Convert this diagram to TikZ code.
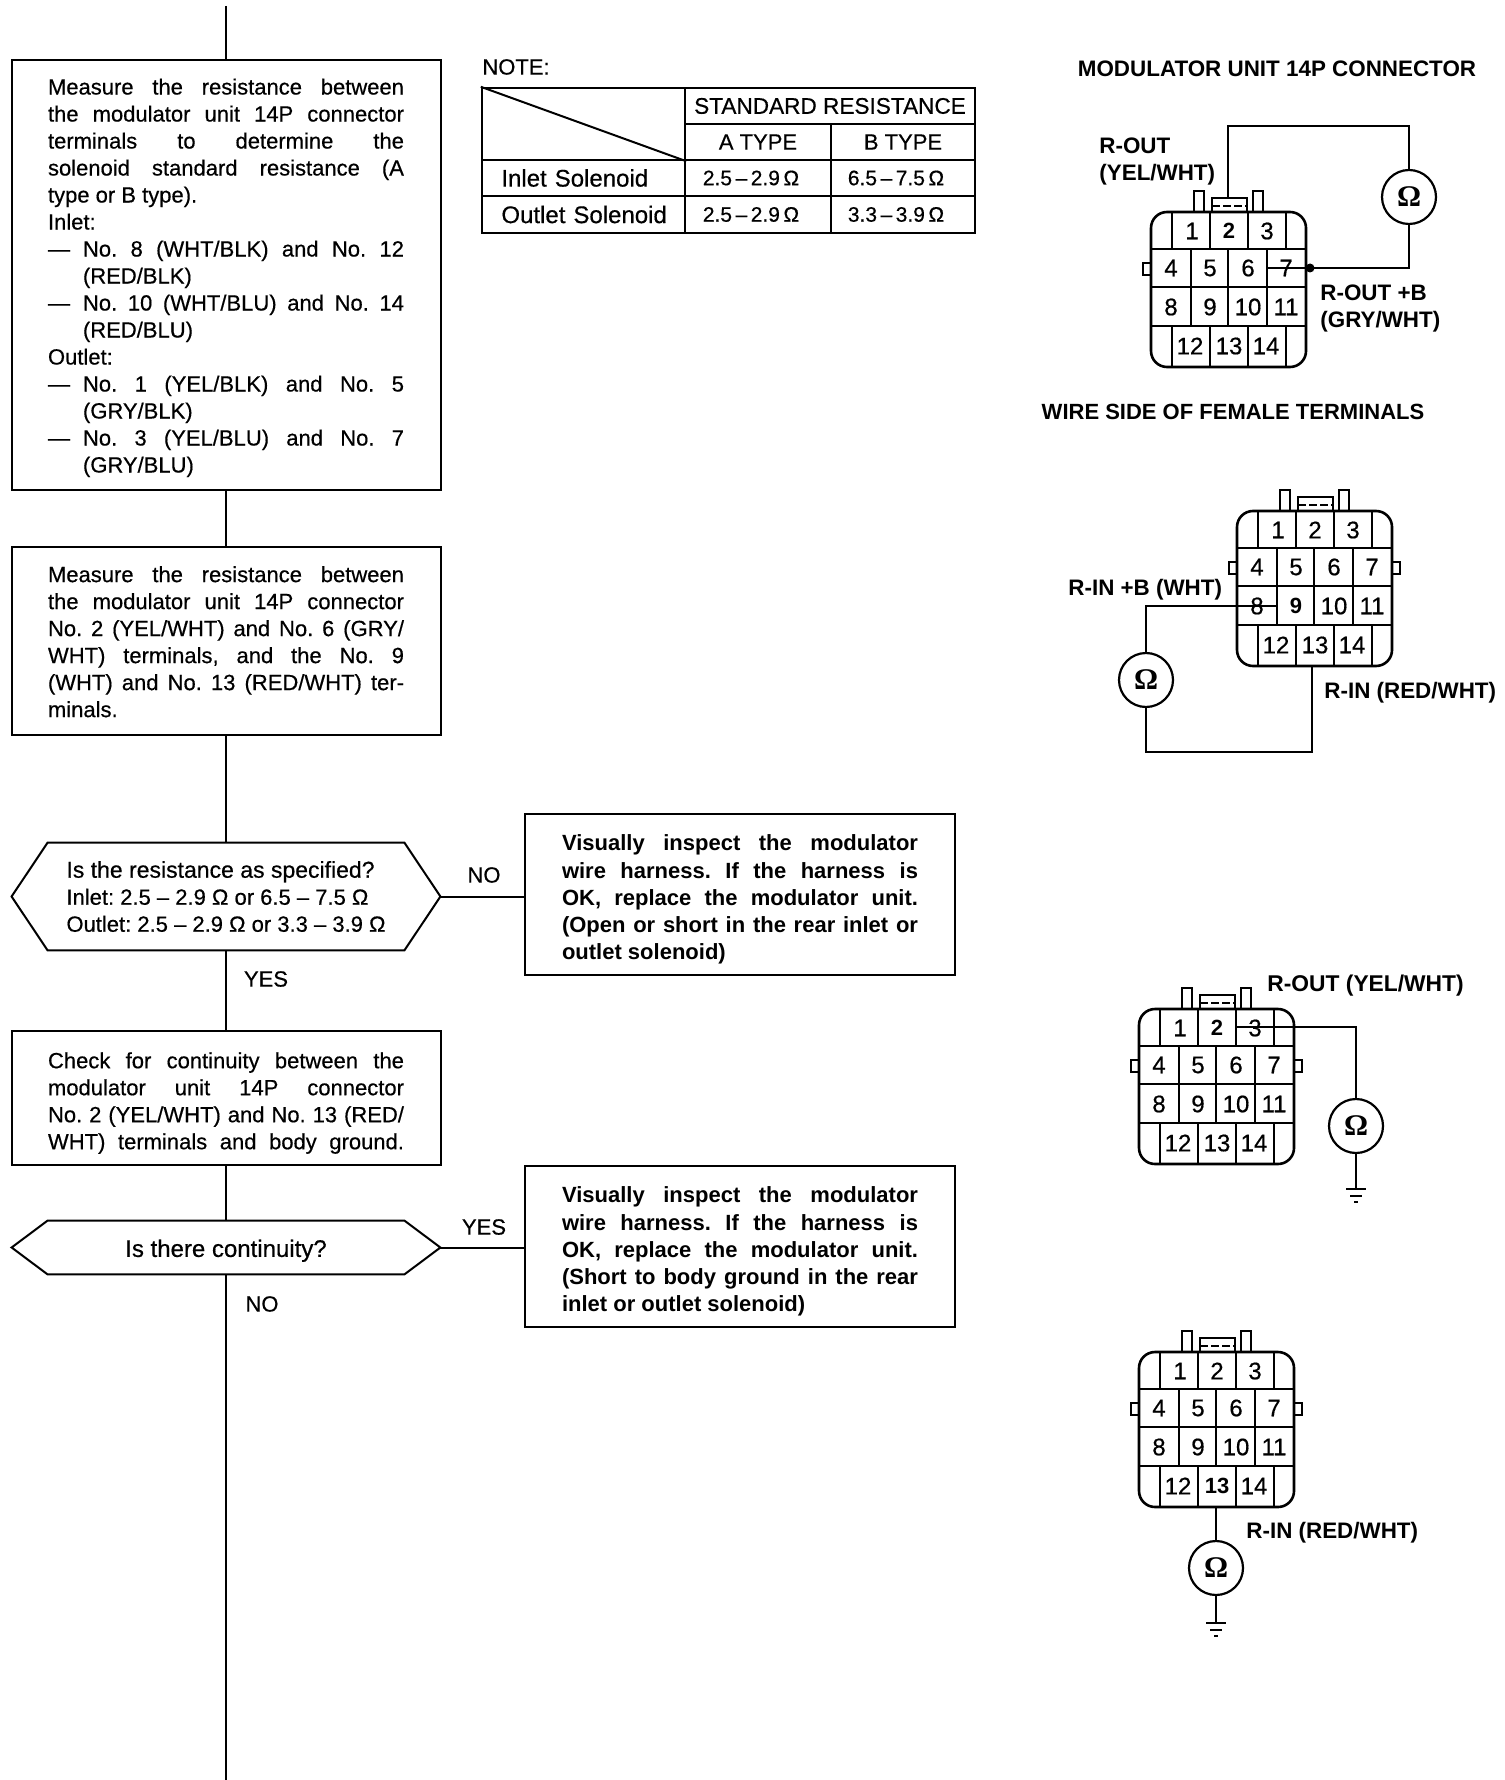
\documentclass[tikz,border=0pt]{standalone}
\usepackage{fontspec}
\setmainfont{Liberation Sans}[UprightFeatures={FakeBold=0.5}]
\newfontfamily\omfont{Liberation Serif}
\frenchspacing
\newcommand{\jl}[2][178pt]{\hbox to #1{\spaceskip=.2em plus 1fil\relax #2}}
\newcommand{\dl}[1]{\makebox[17.5pt][l]{—}\jl[160.5pt]{#1}}
\newcommand{\il}[1]{\hspace*{17.5pt}#1}
\newcommand{\topgap}[1]{\rule{0pt}{#1}}
\newcommand{\rng}[2]{{\fontsize{10.5}{13}\selectfont #1\,–\,#2\,Ω\hspace*{7pt}}}
\tikzset{
  x=0.5pt,y=-0.5pt,
  flow/.style={line width=1pt,black},
  boxnode/.style={draw,line width=1pt,inner sep=0pt,align=left,font=\fontsize{11}{13.5}\selectfont},
  boldbox/.style={boxnode,font=\fontsize{11}{13.6}\selectfont\bfseries},
  hexa/.style={inner sep=0pt,minimum width=214pt,align=left,font=\fontsize{11}{13.5}\selectfont},
  hexline/.style={line width=1pt,line join=miter},
  lbl/.style={inner sep=0pt,font=\fontsize{11}{13}\selectfont},
  blbl/.style={inner sep=0pt,font=\fontsize{11.2}{13.5}\selectfont\bfseries},
  cell/.style={draw,line width=1.2pt,inner sep=0pt,font=\fontsize{11}{13}\selectfont},
  wire/.style={line width=1.2pt},
  thinw/.style={line width=.7pt},
  meter/.style={circle,draw,line width=1.1pt,fill=white,minimum size=27pt,inner sep=0pt,font=\omfont\fontsize{15}{15}\selectfont\bfseries},
  num/.style={inner sep=0pt,font=\fontsize{12}{12}\selectfont},
  bnum/.style={inner sep=0pt,font=\fontsize{11}{12}\selectfont\bfseries},
  rightnub/.style={},
}
% #1 name, #2 x, #3 y, #4 bold terminal
\newcommand{\connector}[4]{%
\begin{scope}[shift={(#2,#3)}]
  \draw[line width=1.3pt,rounded corners=8pt] (0,0) rectangle (155,155);
  \draw[line width=1.2pt] (43,0)--(43,-21)--(53,-21)--(53,0);
  \draw[line width=1.2pt] (102,0)--(102,-21)--(112,-21)--(112,0);
  \draw[line width=1.1pt] (61,0)--(61,-14)--(96,-14)--(96,0);
  \draw[thinw,dashed,dash pattern=on 4pt off 1.5pt] (61,-6)--(96,-6);
  \draw[line width=1.1pt] (0,51)--(-8,51)--(-8,63)--(0,63);
  \draw[line width=1.1pt,rightnub] (155,51)--(163,51)--(163,63)--(155,63);
  \draw[line width=1pt] (0,37)--(155,37) (0,75)--(155,75) (0,114)--(155,114);
  \draw[line width=.9pt] (21,0)--(21,37) (59,0)--(59,37) (97,0)--(97,37) (135,0)--(135,37);
  \draw[line width=.9pt] (40,37)--(40,114) (77,37)--(77,114) (116,37)--(116,114);
  \draw[line width=.9pt] (21,114)--(21,155) (59,114)--(59,155) (97,114)--(97,155) (135,114)--(135,155);
  \foreach \n/\px/\py in {1/41/19,2/78/19,3/116/19,4/20/56,5/59/56,6/97/56,7/135/56,8/20/95,9/59/95,10/97/95,11/135/95,12/39/134,13/78/134,14/115/134}{
    \ifnum\n=#4\relax
      \node[bnum] (#1-\n) at (\px,\py) {\n};
    \else
      \node[num] (#1-\n) at (\px,\py) {\n};
    \fi
  }
  \coordinate (#1-top) at (77,-14);
  \coordinate (#1-bot) at (77,155);
\end{scope}}
\newcommand{\groundsym}[1]{%
  \draw[wire] ([xshift=-5pt]#1) -- ([xshift=5pt]#1);
  \draw[line width=1pt] ([xshift=-3pt,yshift=-3.5pt]#1) -- ([xshift=3pt,yshift=-3.5pt]#1);
  \draw[line width=1pt] ([xshift=-1pt,yshift=-6.5pt]#1) -- ([xshift=1pt,yshift=-6.5pt]#1);}
\begin{document}
\begin{tikzpicture}
\useasboundingbox (0,0) rectangle (1504,1780);
\fill[white] (0,0) rectangle (1504,1780);
\coordinate (flowtop) at (226,6);
\coordinate (flowend) at (226,1780);

\node[boxnode,minimum width=214.5pt,minimum height=215pt] (b1) at (226,275.5) {%
\topgap{10.3pt}\jl{Measure the resistance between}\\
\jl{the modulator unit 14P connector}\\
\jl{terminals to determine the}\\
\jl{solenoid standard resistance (A}\\
type or B type).\\
Inlet:\\
\dl{No. 8 (WHT/BLK) and No. 12}\\
\il{(RED/BLK)}\\
\dl{No. 10 (WHT/BLU) and No. 14}\\
\il{(RED/BLU)}\\
Outlet:\\
\dl{No. 1 (YEL/BLK) and No. 5}\\
\il{(GRY/BLK)}\\
\dl{No. 3 (YEL/BLU) and No. 7}\\
\il{(GRY/BLU)}};

\node[boxnode,minimum width=214.5pt,minimum height=94pt] (b2) at (226,640.5) {%
\topgap{9.2pt}\jl{Measure the resistance between}\\
\jl{the modulator unit 14P connector}\\
\jl{No. 2 (YEL/WHT) and No. 6 (GRY/}\\
\jl{WHT) terminals, and the No. 9}\\
\jl{(WHT) and No. 13 (RED/WHT) ter-}\\
minals.};

\node[hexa,minimum height=53.5pt] (h1) at (226,896.5) {%
{\fontsize{11.5}{13.5}\selectfont Is the resistance as specified?}\\
Inlet: 2.5 – 2.9 Ω or 6.5 – 7.5 Ω\\
Outlet: 2.5 – 2.9 Ω or 3.3 – 3.9 Ω};
\draw[hexline] (h1.west) -- ([xshift=18pt]h1.north west) -- ([xshift=-18pt]h1.north east) -- (h1.east) -- ([xshift=-18pt]h1.south east) -- ([xshift=18pt]h1.south west) -- cycle;

\node[boldbox,minimum width=215pt,minimum height=80.5pt] (r1) at (740,894.5) {%
\topgap{13pt}\jl{Visually inspect the modulator}\\
\jl{wire harness. If the harness is}\\
\jl{OK, replace the modulator unit.}\\
\jl{(Open or short in the rear inlet or}\\
outlet solenoid)};

\node[boxnode,minimum width=214.5pt,minimum height=67pt] (b3) at (226,1098) {%
\topgap{13pt}\jl{Check for continuity between the}\\
\jl{modulator unit 14P connector}\\
\jl{No. 2 (YEL/WHT) and No. 13 (RED/}\\
\jl{WHT) terminals and body ground.}};

\node[hexa,minimum height=26.5pt,align=center,font=\fontsize{12}{13.5}\selectfont] (h2) at (226,1247.5) {\topgap{11.9pt}Is there continuity?};
\draw[hexline] (h2.west) -- ([xshift=18pt]h2.north west) -- ([xshift=-18pt]h2.north east) -- (h2.east) -- ([xshift=-18pt]h2.south east) -- ([xshift=18pt]h2.south west) -- cycle;

\node[boldbox,minimum width=215pt,minimum height=80.5pt] (r2) at (740,1246.5) {%
\topgap{13pt}\jl{Visually inspect the modulator}\\
\jl{wire harness. If the harness is}\\
\jl{OK, replace the modulator unit.}\\
\jl{(Short to body ground in the rear}\\
inlet or outlet solenoid)};

\draw[flow] (flowtop) -- (b1.north -| flowtop);
\draw[flow] (b1.south -| flowtop) -- (b2.north -| flowtop);
\draw[flow] (b2.south -| flowtop) -- (h1.north -| flowtop);
\draw[flow] (h1.south -| flowtop) -- (b3.north -| flowtop);
\draw[flow] (b3.south -| flowtop) -- (h2.north -| flowtop);
\draw[flow] (h2.south -| flowtop) -- (flowend);
\draw[flow] (h1.east) -- (r1.west |- h1.east);
\draw[flow] (h2.east) -- (r2.west |- h2.east);

\node[lbl] (yes1) at (266,979) {YES};
\node[lbl] (no1) at (484,875) {NO};
\node[lbl] (yes2) at (484,1227) {YES};
\node[lbl] (no2) at (262,1304) {NO};

% table
\node[lbl,anchor=west] (note) at (482,67) {NOTE:};
\node[cell,minimum width=101.5pt,minimum height=36pt] (t0) at (583.5,124) {};
\draw[line width=1pt] (t0.north west) -- (t0.south east);
\node[cell,minimum width=145pt,minimum height=18pt,font=\fontsize{11.3}{13}\selectfont] (th) at (830,106) {STANDARD RESISTANCE};
\node[cell,minimum width=73pt,minimum height=18pt] (ta) at (758,142) {A TYPE};
\node[cell,minimum width=72pt,minimum height=18pt] (tb) at (903,142) {B TYPE};
\node[cell,minimum width=101.5pt,minimum height=18pt,text width=91.5pt,font=\fontsize{12}{13}\selectfont] (t1) at (583.5,178) {\hspace*{4.7pt}Inlet Solenoid};
\node[cell,minimum width=73pt,minimum height=18pt] (t1a) at (758,178) {\rng{2.5}{2.9}};
\node[cell,minimum width=72pt,minimum height=18pt] (t1b) at (903,178) {\rng{6.5}{7.5}};
\node[cell,minimum width=101.5pt,minimum height=18.5pt,text width=91.5pt,font=\fontsize{12}{13}\selectfont] (t2) at (583.5,214.5) {\hspace*{4.7pt}Outlet Solenoid};
\node[cell,minimum width=73pt,minimum height=18.5pt] (t2a) at (758,214.5) {\rng{2.5}{2.9}};
\node[cell,minimum width=72pt,minimum height=18.5pt] (t2b) at (903,214.5) {\rng{3.3}{3.9}};

% upper right
\node[blbl] (title) at (1277,69) {MODULATOR UNIT 14P CONNECTOR};
\node[blbl,anchor=west,align=left] (a-l1) at (1099,162) {R-OUT\\(YEL/WHT)};
\node[blbl,anchor=west,align=left] (a-l2) at (1320,309) {R-OUT +B\\(GRY/WHT)};
\node[blbl,font=\fontsize{11}{13}\selectfont\bfseries] (wire-side) at (1233,412) {WIRE SIDE OF FEMALE TERMINALS};
\begin{scope}[rightnub/.style={draw=none}]
\connector{A}{1151}{212}{2}
\end{scope}
\node[meter] (omA) at (1409,197) {Ω};
\coordinate (A-c1) at (1409,126);
\coordinate (A-c2) at (1409,268);
\coordinate (A-dot) at (1310,268);
\coordinate (A-end) at (1267,268);
\draw[wire] (A-top) |- (A-c1) -- (omA);
\draw[wire] (omA) -- (A-c2) -- (A-dot);
\draw[thinw] (A-dot) -- (A-end);
\fill (A-dot) circle (4.5);

\connector{B}{1237}{511}{9}
\node[meter] (omB) at (1146,680) {Ω};
\node[blbl,anchor=west] (b-l1) at (1068,590) {R-IN +B (WHT)};
\node[blbl,anchor=west] (b-l2) at (1324,693) {R-IN (RED/WHT)};
\coordinate (B-c1) at (1146,606);
\coordinate (B-e) at (1276,606);
\coordinate (B-c2) at (1146,752);
\coordinate (B-c3) at (1312,752);
\coordinate (B-c4) at (1312,666);
\draw[wire] (B-e) -- (B-c1) -- (omB);
\draw[wire] (omB) -- (B-c2) -- (B-c3) -- (B-c4);

\connector{C}{1139}{1009}{2}
\node[meter] (omC) at (1356,1126) {Ω};
\node[blbl,anchor=west,font=\fontsize{11.4}{13}\selectfont\bfseries] (c-l1) at (1267,986) {R-OUT (YEL/WHT)};
\coordinate (C-s) at (1237,1027);
\coordinate (C-c1) at (1356,1027);
\coordinate (C-g) at (1356,1189);
\draw[wire] (C-s) -- (C-c1) -- (omC);
\draw[wire] (omC) -- (C-g);
\groundsym{C-g}

\connector{D}{1139}{1352}{13}
\node[meter] (omD) at (1216,1568) {Ω};
\node[blbl,anchor=west] (d-l1) at (1246,1533) {R-IN (RED/WHT)};
\coordinate (D-g) at (1216,1623);
\draw[wire] (D-bot) -- (omD);
\draw[wire] (omD) -- (D-g);
\groundsym{D-g}
\end{tikzpicture}
\end{document}
